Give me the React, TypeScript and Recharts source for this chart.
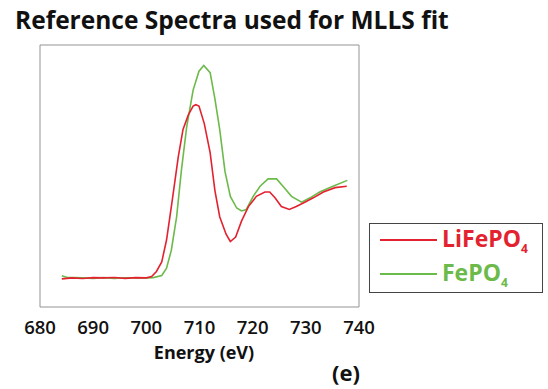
import React from 'react';
import { LineChart, Line, XAxis, YAxis } from 'recharts';

const energyTicks = [680, 690, 700, 710, 720, 730, 740];
const yTicks = [-0.2, 0, 0.2, 0.4, 0.6, 0.8, 1.0, 1.2, 1.4, 1.6];

// LiFePO4 reference spectrum (energy eV, normalised absorption)
const lifepoEnergy = [684.1, 686, 688, 690, 692, 694, 696, 698, 700, 701, 701.9, 702.9, 703.8, 704.9, 706, 706.9, 707.9, 708.8, 709.3, 709.9, 710.9, 712, 712.9, 713.8, 715, 715.8, 716.8, 717.9, 719.2, 720.7, 722.3, 723.2, 724.2, 725.4, 726.9, 728.2, 729.8, 731.4, 733.3, 735.5, 737.7];
const lifepoValue = [-0.007, 0, -0.004, 0.002, 0, 0.003, -0.003, 0.002, 0, 0.01, 0.044, 0.11, 0.26, 0.54, 0.83, 1.02, 1.12, 1.18, 1.19, 1.18, 1.06, 0.86, 0.6, 0.42, 0.3, 0.25, 0.28, 0.39, 0.49, 0.56, 0.59, 0.59, 0.55, 0.49, 0.47, 0.49, 0.52, 0.55, 0.59, 0.62, 0.63];

// FePO4 reference spectrum
const fepoEnergy = [684.1, 685, 688, 690, 692, 694, 696, 698, 700, 701.3, 702.9, 703.8, 704.7, 705.7, 706.6, 707.6, 708.8, 709.9, 710.8, 712, 712.9, 713.8, 714.8, 715.8, 717, 717.9, 718.8, 720.1, 721.4, 722.9, 724.5, 725.7, 727.3, 729.2, 730.8, 732.6, 735.1, 737.8];
const fepoValue = [0.014, 0.004, 0, -0.003, 0.002, -0.004, 0.001, 0, 0, 0.002, 0.016, 0.066, 0.19, 0.42, 0.74, 1.04, 1.29, 1.42, 1.46, 1.41, 1.23, 1.02, 0.73, 0.56, 0.48, 0.46, 0.47, 0.56, 0.63, 0.68, 0.68, 0.63, 0.56, 0.52, 0.55, 0.59, 0.63, 0.67];

const lifepo = lifepoEnergy.map((e, i) => ({ e, v: lifepoValue[i] }));
const fepo = fepoEnergy.map((e, i) => ({ e, v: fepoValue[i] }));

const RED = '#e3222f';
const GREEN = '#6cba4a';
const FRAME = '#939393';
const FONT = '"Open Sans", sans-serif';

export default function App() {
  return (
    <div style={{ position: 'absolute', left: 0, top: 0, width: 548, height: 389, background: '#fff', fontFamily: FONT, overflow: 'hidden' }}>
      <div style={{ position: 'absolute', left: 15, top: 3, fontSize: 24.5, fontWeight: 700, color: '#111', whiteSpace: 'nowrap' }}>
        Reference Spectra used for MLLS fit
      </div>
      <LineChart width={548} height={389} margin={{ top: 45, right: 189, bottom: 0, left: 40 }}>
        <XAxis
          dataKey="e"
          type="number"
          domain={[680, 740]}
          ticks={energyTicks}
          allowDataOverflow
          height={82}
          tickLine={false}
          tickMargin={8}
          stroke={FRAME}
          tick={{ fill: '#111', fontSize: 18.5, fontWeight: 600, fontFamily: FONT }}
        />
        <XAxis
          xAxisId="bottomTicks"
          dataKey="e"
          type="number"
          domain={[680, 740]}
          ticks={energyTicks}
          mirror
          axisLine={false}
          tickSize={3}
          tick={false}
          stroke="#d0d0d0"
        />
        <XAxis
          xAxisId="top"
          orientation="top"
          dataKey="e"
          type="number"
          domain={[680, 740]}
          ticks={energyTicks}
          mirror
          tickSize={3}
          tick={false}
          stroke={FRAME}
        />
        <YAxis
          type="number"
          domain={[-0.2, 1.6]}
          ticks={yTicks}
          mirror
          tickSize={3}
          tick={false}
          stroke={FRAME}
        />
        <YAxis
          yAxisId="right"
          orientation="right"
          type="number"
          domain={[-0.2, 1.6]}
          ticks={yTicks}
          mirror
          tickSize={3}
          tick={false}
          stroke={FRAME}
        />
        <Line data={fepo} dataKey="v" type="linear" stroke={GREEN} strokeWidth={1.6} dot={false} isAnimationActive={false} />
        <Line data={lifepo} dataKey="v" type="linear" stroke={RED} strokeWidth={1.6} dot={false} isAnimationActive={false} />
      </LineChart>
      <div style={{ position: 'absolute', left: 140, top: 340, width: 128, textAlign: 'center', fontSize: 18, fontWeight: 700, color: '#111', whiteSpace: 'nowrap' }}>
        Energy (eV)
      </div>
      <div style={{ position: 'absolute', left: 332, top: 360, fontSize: 22, lineHeight: '24px', fontWeight: 700, color: '#111' }}>(e)</div>
      <div style={{ position: 'absolute', left: 369, top: 223, width: 172, height: 68, border: '1px solid #444', boxSizing: 'content-box' }}>
        <div style={{ position: 'absolute', left: 10, top: 15, width: 57, height: 0, borderTop: `2px solid ${RED}` }} />
        <div style={{ position: 'absolute', left: 72, top: -2, fontSize: 23, fontWeight: 700, color: RED, whiteSpace: 'nowrap' }}>
          LiFePO<sub style={{ fontSize: 12, verticalAlign: '-6px' }}>4</sub>
        </div>
        <div style={{ position: 'absolute', left: 10, top: 49, width: 57, height: 0, borderTop: `2px solid ${GREEN}` }} />
        <div style={{ position: 'absolute', left: 72, top: 32, fontSize: 23, fontWeight: 700, color: GREEN, whiteSpace: 'nowrap' }}>
          FePO<sub style={{ fontSize: 12, verticalAlign: '-6px' }}>4</sub>
        </div>
      </div>
    </div>
  );
}
